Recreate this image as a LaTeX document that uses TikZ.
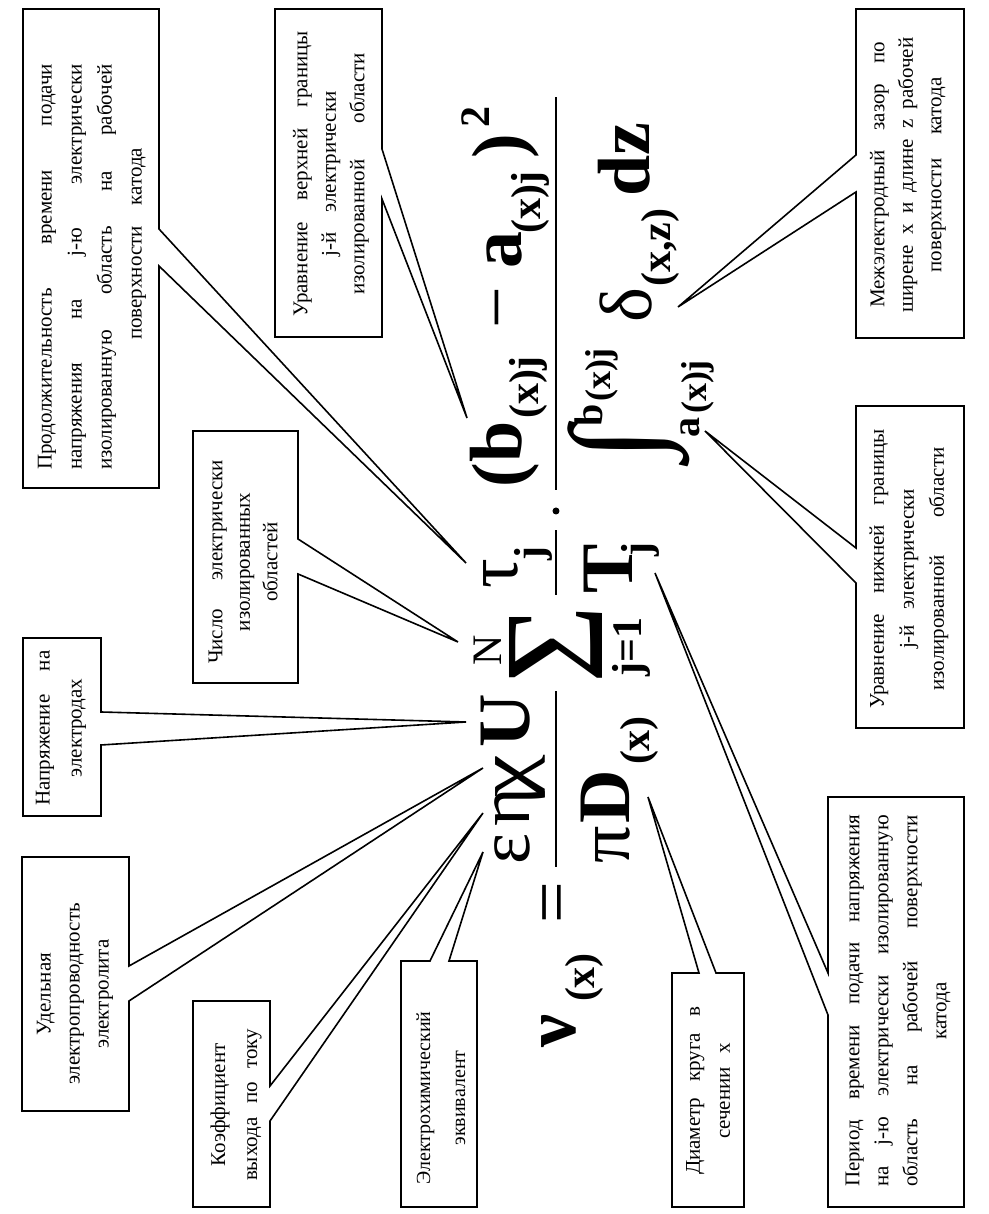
\documentclass[tikz,border=0pt]{standalone}
\usepackage{fontspec}
\setmainfont{Liberation Serif}
\usepackage{graphicx}
\newcommand{\jline}[2]{\makebox[#1pt][s]{#2}}
% callout outlines: u1,u2,v1,v2,g1,g2,tip
\newcommand{\coB}[7]{\draw[co] (#1,#3) -- (#5,#3) -- (#7) -- (#6,#3) -- (#2,#3) -- (#2,#4) -- (#1,#4) -- cycle;}
\newcommand{\coT}[7]{\draw[co] (#1,#3) -- (#2,#3) -- (#2,#4) -- (#6,#4) -- (#7) -- (#5,#4) -- (#1,#4) -- cycle;}
\newcommand{\coR}[7]{\draw[co] (#1,#3) -- (#2,#3) -- (#2,#5) -- (#7) -- (#2,#6) -- (#2,#4) -- (#1,#4) -- cycle;}
\tikzset{
  co/.style={line width=1.6pt, line join=miter},
  lbl/.style={align=center, inner sep=0pt},
  fm/.style={inner sep=0pt, outer sep=0pt, anchor=base west, font=\fontsize{74}{80}\selectfont},
  fmb/.style={inner sep=0pt, outer sep=0pt, anchor=base west, font=\fontsize{74}{80}\selectfont\bfseries},
  fs/.style={inner sep=0pt, outer sep=0pt, anchor=base west, font=\fontsize{42}{46}\selectfont\bfseries},
  fsr/.style={inner sep=0pt, outer sep=0pt, anchor=base west, font=\fontsize{42}{46}\selectfont},
  fl/.style={inner sep=0pt, outer sep=0pt, anchor=base west, font=\fontsize{40}{44}\selectfont\bfseries},
  fss/.style={inner sep=0pt, outer sep=0pt, anchor=base west, font=\fontsize{36}{40}\selectfont\bfseries},
  bar/.style={line width=2.2pt},
}
\begin{document}
\begin{tikzpicture}[x=1pt, y=1pt, rotate=90, transform shape]
\fill[white] (0,0) rectangle (1214,988);
\useasboundingbox (0,0) rectangle (1214,988);

% ---------- tips of the callouts ----------
\coordinate (p1) at (651,522);
\coordinate (p2) at (796,521);
\coordinate (p3) at (907,310);
\coordinate (p4) at (783,283);
\coordinate (p5) at (641,333);
\coordinate (p6) at (417,340);
\coordinate (p7) at (362,505);
\coordinate (p8) at (401,505);
\coordinate (p9) at (446,505);
\coordinate (p10) at (492,522);
\coordinate (p11) at (572,530);

% ---------- callout outlines ----------
\coB{726}{1205}{829}{965}{948}{985}{p1}
\coB{877}{1205}{606}{713}{1015}{1065}{p2}
\coT{876}{1205}{24}{132}{1022}{1059}{p3}
\coT{486}{808}{24}{132}{631}{666}{p4}
\coT{7}{417}{24}{160}{199}{241}{p5}
\coR{7}{241}{244}{316}{272}{289}{p6}
\coR{7}{253}{511}{587}{539}{558}{p7}
\coB{7}{213}{718}{795}{93}{128}{p8}
\coB{103}{357}{859}{966}{213}{248}{p9}
\coB{398}{576}{887}{965}{469}{502}{p10}
\coB{531}{783}{690}{795}{640}{675}{p11}

% ---------- callout texts ----------
\node[lbl, font=\fontsize{21}{30}\selectfont] (t1) at (947,896)
  {\jline{406}{Продолжительность времени подачи}\\
   \jline{406}{напряжения на j-ю электрически}\\
   \jline{406}{изолированную область на рабочей}\\
   \hspace*{46pt}\jline{192}{поверхности катода}};
\node[lbl, font=\fontsize{21}{28.5}\selectfont] (t2) at (1040,657)
  {\jline{286}{Уравнение верхней границы}\\
   \jline{165}{j-й электрически}\\
   \jline{242}{изолированной области}};
\node[lbl, font=\fontsize{21}{28.5}\selectfont] (t3) at (1039,80)
  {\jline{266}{Межэлектродный зазор по}\\
   \jline{275}{ширене x и длине z рабочей}\\
   \jline{195}{поверхности катода}};
\node[lbl, font=\fontsize{21}{30}\selectfont] (t4) at (645,79)
  {\jline{280}{Уравнение нижней границы}\\
   \jline{160}{j-й электрически}\\
   \jline{243}{изолированной области}};
\node[lbl, font=\fontsize{21}{29}\selectfont] (t5) at (213,90)
  {\jline{372}{Период времени подачи напряжения}\\
   \jline{372}{на j-ю электрически изолированную}\\
   \jline{372}{область на рабочей поверхности}\\
   катода\hspace*{20pt}};
\node[lbl, font=\fontsize{21}{30}\selectfont] (t6) at (123,280)
  {\jline{168}{Диаметр круга в}\\
   \jline{96}{сечении x}};
\node[lbl, font=\fontsize{20}{35}\selectfont] (t7) at (116,547)
  {Электрохимический\\ эквивалент};
\node[lbl, font=\fontsize{21}{32}\selectfont] (t8) at (109,752)
  {Коэффициент\\ \jline{152}{выхода по току}};
\node[lbl, font=\fontsize{21}{29}\selectfont] (t9) at (220,913)
  {Удельная\\ электропроводность\\ электролита};
\node[lbl, font=\fontsize{21}{32}\selectfont] (t10) at (486,927)
  {\jline{155}{Напряжение на}\\ электродах};
\node[lbl, font=\fontsize{21}{27.5}\selectfont] (t11) at (652,745)
  {\jline{204}{Число электрически}\\ изолированных\\ областей};

% ---------- formula ----------
\node[fmb] (nu) at (166,412) {ν};
\node[fs] (nux) at (212,393) {(x)};
\node[fm] (eq) at (290,411) {=};
% first fraction
\node[fm] (eps) at (349,458) {ε};
\node[fm] (eta) at (387,458) {η};
\node[fm] (chi) at (416,458) {\scalebox{1.3}[1]{χ}};
\node[fmb] (U) at (466,458) {U};
\coordinate (fa1) at (347,432);
\coordinate (fa2) at (523,432);
\draw[bar] (fa1) -- (fa2);
\node[fm] (pi) at (350,358) {π};
\node[fmb] (D) at (390,358) {D};
\node[fs] (Dx) at (449,338) {(x)};
% sum
\node[inner sep=0pt, anchor=south] (sum) at (569,385) {\resizebox*{78pt}{93pt}{Σ}};
\node[fsr, anchor=base] (N) at (564,486) {N};
\node[fs, anchor=base] (j1) at (567,346) {j=1};
% second fraction
\node[fm] (tau) at (625,470) {τ};
\node[fs] (tauj) at (653,444) {j};
\coordinate (fb1) at (619,432);
\coordinate (fb2) at (684,432);
\draw[bar] (fb1) -- (fb2);
\node[fmb] (T) at (620,355) {T};
\node[fs] (Tj) at (657,337) {j};
\node[circle, fill, inner sep=0pt, minimum size=7pt] (dot) at (703,432) {};
% third fraction
\coordinate (fc1) at (724,432);
\coordinate (fc2) at (1117,432);
\draw[bar] (fc1) -- (fc2);
\node[fmb] (lp) at (726,464) {(};
\node[fmb] (b) at (751,466) {b};
\node[fs] (bx) at (795,449) {(x)j};
\node[fm] (minus) at (885,466) {−};
\node[fmb] (a) at (945,466) {a};
\node[fs] (ax) at (980,447) {(x)j};
\node[fmb] (rp) at (1055,464) {)};
\node[fs] (sq) at (1086,498) {2};
\node[inner sep=0pt, anchor=south west] (int) at (753,298) {\resizebox*{33pt}{122pt}{∫}};
\node[fl] (ub) at (787,385) {b};
\node[fss] (ubx) at (812,377) {(x)j};
\node[fl] (la) at (776,288) {a};
\node[fss] (lax) at (800,281) {(x)j};
\node[fm] (delta) at (891,336) {δ};
\node[fs] (dxz) at (927,317) {(x,z)};
\node[fmb] (dz) at (1017,338) {dz};
\end{tikzpicture}
\end{document}
